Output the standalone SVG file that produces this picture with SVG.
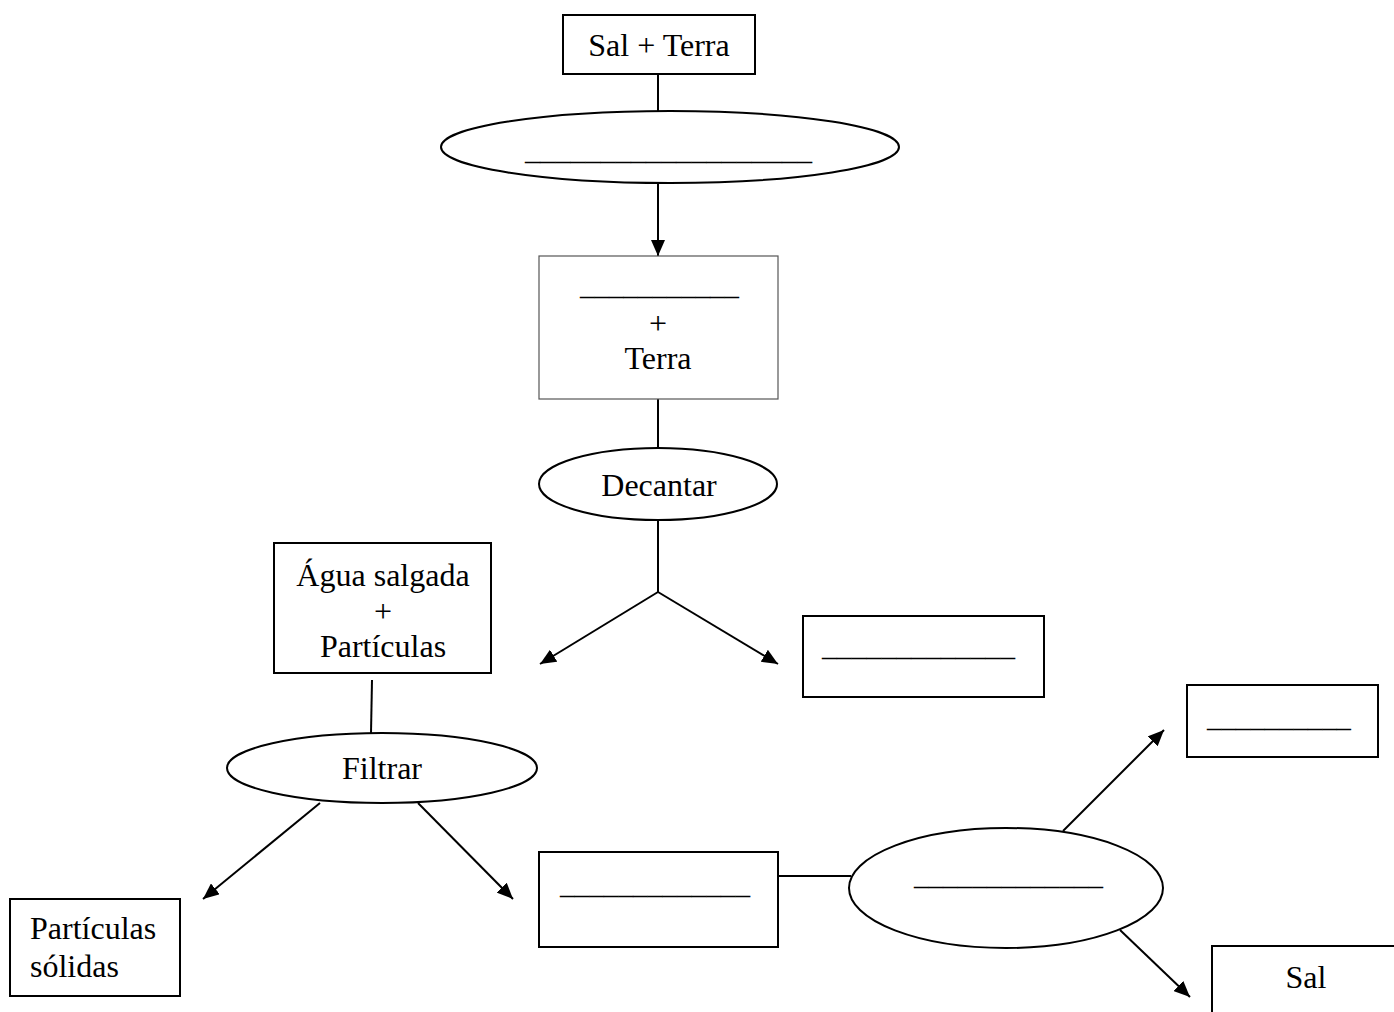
<svg xmlns="http://www.w3.org/2000/svg" width="1394" height="1012" viewBox="0 0 1394 1012">
<style>
.box{fill:#fff;stroke:#000;stroke-width:2}
.thin{fill:#fff;stroke:#555;stroke-width:1.2}
.ell{fill:#fff;stroke:#000;stroke-width:2}
.t{font-family:"Liberation Serif","Times New Roman",serif;font-size:32px;fill:#000}
.u{font-family:"Liberation Serif","Times New Roman",serif;font-size:30px;fill:#000}
.c{text-anchor:middle}
.ln{stroke:#000;stroke-width:2;fill:none}
</style>
<defs>
<marker id="ah" markerUnits="userSpaceOnUse" markerWidth="18" markerHeight="14" refX="16" refY="7" orient="auto">
<path d="M0,0 L16,7 L0,14 Z" fill="#000"/>
</marker>
</defs>
<rect width="1394" height="1012" fill="#fff"/>
<g id="connectors">
<line class="ln" x1="658" y1="74" x2="658" y2="111"/>
<line class="ln" x1="658" y1="183" x2="658" y2="256" marker-end="url(#ah)"/>
<line class="ln" x1="658" y1="399" x2="658" y2="447"/>
<line class="ln" x1="658" y1="520" x2="658" y2="592"/>
<line class="ln" x1="658" y1="592" x2="540" y2="664" marker-end="url(#ah)"/>
<line class="ln" x1="658" y1="592" x2="778" y2="664" marker-end="url(#ah)"/>
<line class="ln" x1="372" y1="680" x2="371" y2="733"/>
<line class="ln" x1="320" y1="803" x2="203" y2="899" marker-end="url(#ah)"/>
<line class="ln" x1="418" y1="803" x2="513" y2="899" marker-end="url(#ah)"/>
<line class="ln" x1="778" y1="876" x2="851" y2="876"/>
<line class="ln" x1="1063" y1="831" x2="1164" y2="730" marker-end="url(#ah)"/>
<line class="ln" x1="1120" y1="930" x2="1190" y2="997" marker-end="url(#ah)"/>
</g>
<g id="n1"><rect class="box" x="563" y="15" width="192" height="59"/><text class="t c" x="659" y="56">Sal + Terra</text></g>
<g id="n2"><ellipse class="ell" cx="670" cy="147" rx="229" ry="36"/><text class="u" x="525" y="160" textLength="287" lengthAdjust="spacingAndGlyphs">___________________</text></g>
<g id="n3"><rect class="thin" x="539" y="256" width="239" height="143"/><text class="u" x="580" y="295" textLength="159" lengthAdjust="spacingAndGlyphs">___________</text><text class="t c" x="658" y="334">+</text><text class="t c" x="658" y="369">Terra</text></g>
<g id="n4"><ellipse class="ell" cx="658" cy="484" rx="119" ry="36"/><text class="t c" x="659" y="496">Decantar</text></g>
<g id="n5"><rect class="box" x="274" y="543" width="217" height="130"/><text class="t c" x="383" y="586">Água salgada</text><text class="t c" x="383" y="622">+</text><text class="t c" x="383" y="657">Partículas</text></g>
<g id="n6"><rect class="box" x="803" y="616" width="241" height="81"/><text class="u" x="822" y="656" textLength="193" lengthAdjust="spacingAndGlyphs">_____________</text></g>
<g id="n7"><ellipse class="ell" cx="382" cy="768" rx="155" ry="35"/><text class="t c" x="382" y="779">Filtrar</text></g>
<g id="n8"><rect class="box" x="10" y="899" width="170" height="97"/><text class="t" x="30" y="939">Partículas</text><text class="t" x="30" y="977">sólidas</text></g>
<g id="n9"><rect class="box" x="539" y="852" width="239" height="95"/><text class="u" x="560" y="894" textLength="190" lengthAdjust="spacingAndGlyphs">_____________</text></g>
<g id="n10"><ellipse class="ell" cx="1006" cy="888" rx="157" ry="60"/><text class="u" x="914" y="885" textLength="189" lengthAdjust="spacingAndGlyphs">_____________</text></g>
<g id="n11"><rect class="box" x="1187" y="685" width="191" height="72"/><text class="u" x="1207" y="727" textLength="144" lengthAdjust="spacingAndGlyphs">__________</text></g>
<g id="n12"><rect class="box" x="1212" y="946" width="190" height="80"/><text class="t c" x="1306" y="988">Sal</text></g>
</svg>
